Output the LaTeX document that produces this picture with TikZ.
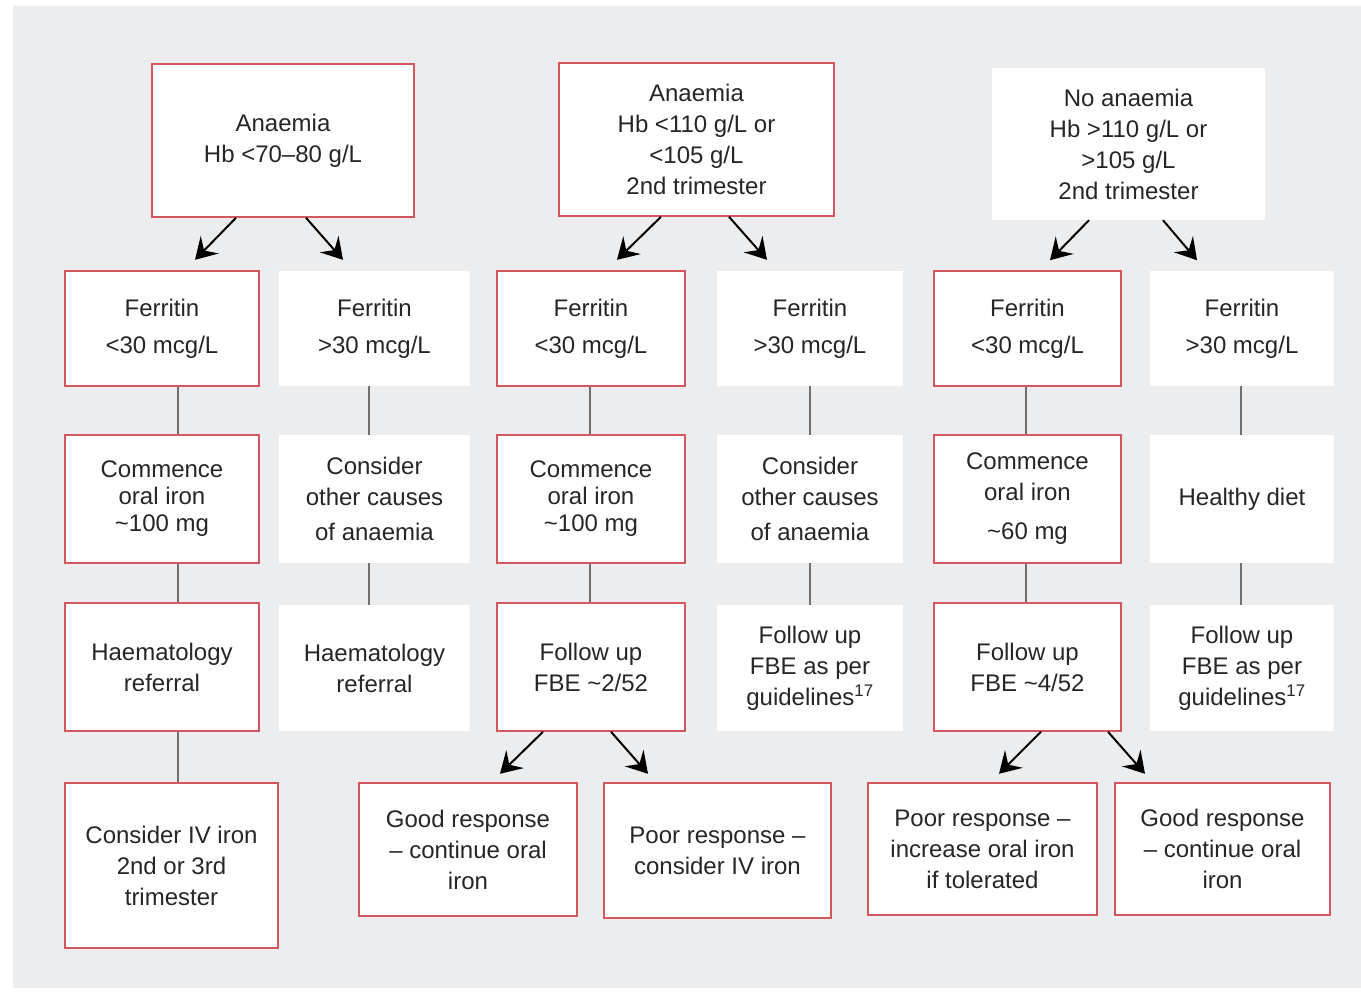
\documentclass[tikz,border=0pt]{standalone}
\usepackage{fontspec}
\setmainfont{Liberation Sans}
\usetikzlibrary{arrows.meta}
\definecolor{bggray}{RGB}{236,237,239}
\definecolor{boxred}{RGB}{212,86,94}
\definecolor{linkgray}{RGB}{112,112,112}
\definecolor{txt}{RGB}{38,38,38}
\tikzstyle{redbox}=[draw=boxred, line width=1.6pt, fill=white, align=center, inner sep=0pt, text=txt, font=\fontsize{24}{31}\selectfont]
\tikzstyle{whitebox}=[fill=white, align=center, inner sep=0pt, text=txt, font=\fontsize{24}{31}\selectfont]
\tikzstyle{link}=[draw=linkgray, line width=1.8pt]
\tikzstyle{arr}=[line width=2pt, -{Stealth[length=21pt, width=25pt, inset=8pt]}]

\begin{document}
\begin{tikzpicture}[x=1pt, y=-1pt]
\useasboundingbox (0,0) rectangle (1361,998);
\fill[bggray] (13,6) rectangle (1361,988);

% top row
\node at (283,140.5)[redbox, minimum width=262, minimum height=153](hb1){Anaemia\\Hb <70--80 g/L};
\node at (696.5,139.5)[redbox, minimum width=275, minimum height=153](hb2){Anaemia\\Hb <110 g/L or\\<105 g/L\\2nd trimester};
\node at (1128.5,144)[whitebox, minimum width=273, minimum height=152](hb3){No anaemia\\Hb >110 g/L or\\>105 g/L\\2nd trimester};

% ferritin row
\node at (162,328.5)[redbox, minimum width=194, minimum height=115](fe1){Ferritin\\[6pt]<30 mcg/L};
\node at (374.5,328.5)[whitebox, minimum width=191, minimum height=115](fe2){Ferritin\\[6pt]>30 mcg/L};
\node at (591,328.5)[redbox, minimum width=188, minimum height=115](fe3){Ferritin\\[6pt]<30 mcg/L};
\node at (810,328.5)[whitebox, minimum width=186, minimum height=115](fe4){Ferritin\\[6pt]>30 mcg/L};
\node at (1027.5,328.5)[redbox, minimum width=187, minimum height=115](fe5){Ferritin\\[6pt]<30 mcg/L};
\node at (1242,328.5)[whitebox, minimum width=184, minimum height=115](fe6){Ferritin\\[6pt]>30 mcg/L};

% treatment row
\node at (162,499)[redbox, minimum width=194, minimum height=128](co1){Commence\\[-4pt]oral iron\\[-4pt]\textasciitilde100 mg};
\node at (374.5,499)[whitebox, minimum width=191, minimum height=128](co2){Consider\\other causes\\[4pt]of anaemia};
\node at (591,499)[redbox, minimum width=188, minimum height=128](co3){Commence\\[-4pt]oral iron\\[-4pt]\textasciitilde100 mg};
\node at (810,499)[whitebox, minimum width=186, minimum height=128](co4){Consider\\other causes\\[4pt]of anaemia};
\node at (1027.5,499)[redbox, minimum width=187, minimum height=128](co5){Commence\\oral iron\\[8pt]\textasciitilde60 mg};
\node at (1242,499)[whitebox, minimum width=184, minimum height=128](co6){Healthy diet};

% follow up row
\node at (162,667)[redbox, minimum width=194, minimum height=128](hr1){Haematology\\referral};
\node at (374.5,668)[whitebox, minimum width=191, minimum height=126](hr2){Haematology\\referral};
\node at (591,667)[redbox, minimum width=188, minimum height=128](fu3){Follow up\\FBE \textasciitilde2/52};
\node at (810,668)[whitebox, minimum width=186, minimum height=126](fu4){Follow up\\FBE as per\\guidelines\textsuperscript{17}};
\node at (1027.5,667)[redbox, minimum width=187, minimum height=128](fu5){Follow up\\FBE \textasciitilde4/52};
\node at (1242,668)[whitebox, minimum width=184, minimum height=126](fu6){Follow up\\FBE as per\\guidelines\textsuperscript{17}};

% outcome row
\node at (171.5,865.5)[redbox, minimum width=213, minimum height=165](iv1){Consider IV iron\\2nd or 3rd\\trimester};
\node at (468,849.5)[redbox, minimum width=218, minimum height=133](gr3){Good response\\-- continue oral\\iron};
\node at (717.5,850.5)[redbox, minimum width=227, minimum height=135](pr3){Poor response --\\consider IV iron};
\node at (982.5,849)[redbox, minimum width=229, minimum height=132](pr5){Poor response --\\increase oral iron\\if tolerated};
\node at (1222.5,849)[redbox, minimum width=215, minimum height=132](gr5){Good response\\-- continue oral\\iron};

% arrows
\draw[arr] ([xshift=-47]hb1.south) -- ++(-41,42);
\draw[arr] ([xshift=23]hb1.south) -- ++(37,42);
\draw[arr] ([xshift=-35.5]hb2.south) -- ++(-44,43);
\draw[arr] ([xshift=32.5]hb2.south) -- ++(38,43);
\draw[arr] ([xshift=-39.5]hb3.south) -- ++(-39,40);
\draw[arr] ([xshift=34.5]hb3.south) -- ++(34,40);
\draw[arr] ([xshift=-48]fu3.south) -- ++(-43,42);
\draw[arr] ([xshift=20]fu3.south) -- ++(37,42);
\draw[arr] ([xshift=13.5]fu5.south) -- ++(-42,42);
\draw[arr] ([xshift=80.5]fu5.south) -- ++(37,42);

% links
\draw[link] ([xshift=16]fe1.south) -- ([xshift=16]co1.north);
\draw[link] ([xshift=16]co1.south) -- ([xshift=16]hr1.north);
\draw[link] ([xshift=16]hr1.south) -- ([xshift=6.5]iv1.north);
\draw[link] ([xshift=-5.5]fe2.south) -- ([xshift=-5.5]co2.north);
\draw[link] ([xshift=-5.5]co2.south) -- ([xshift=-5.5]hr2.north);
\draw[link] ([xshift=-1]fe3.south) -- ([xshift=-1]co3.north);
\draw[link] ([xshift=-1]co3.south) -- ([xshift=-1]fu3.north);
\draw[link] (fe4.south) -- (co4.north);
\draw[link] (co4.south) -- (fu4.north);
\draw[link] ([xshift=-1.5]fe5.south) -- ([xshift=-1.5]co5.north);
\draw[link] ([xshift=-1.5]co5.south) -- ([xshift=-1.5]fu5.north);
\draw[link] ([xshift=-1]fe6.south) -- ([xshift=-1]co6.north);
\draw[link] ([xshift=-1]co6.south) -- ([xshift=-1]fu6.north);
\end{tikzpicture}
\end{document}
